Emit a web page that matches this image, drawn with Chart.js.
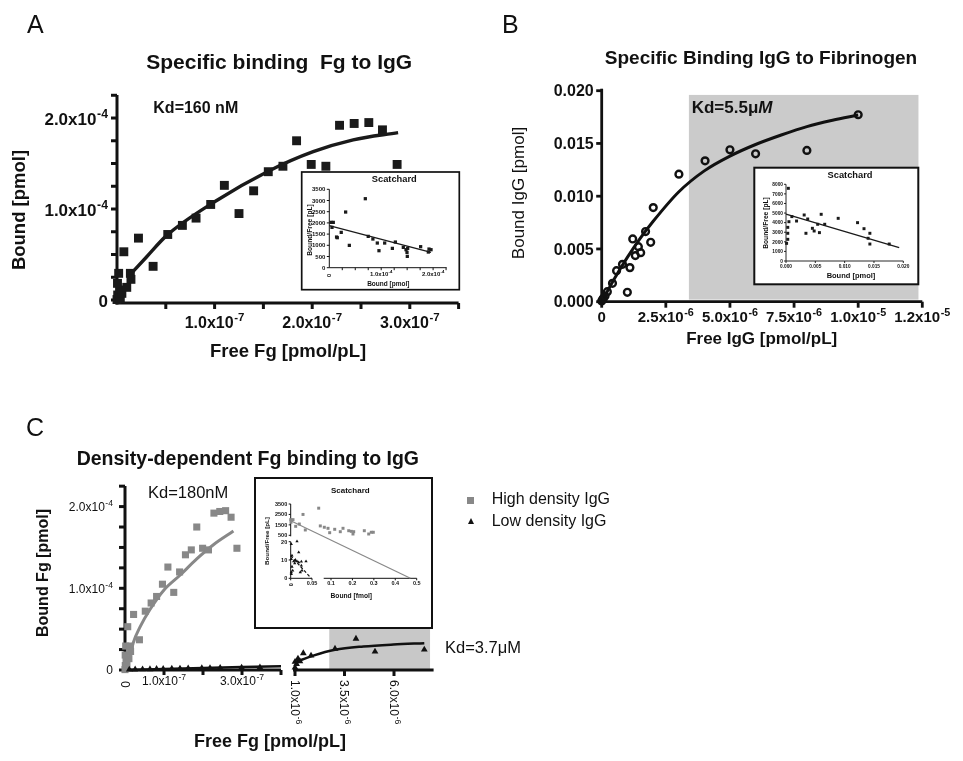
<!DOCTYPE html>
<html>
<head>
<meta charset="utf-8">
<script src="https://cdn.jsdelivr.net/npm/chart.js@4.4.1/dist/chart.umd.min.js"></script>
<style>
  body { margin: 0; background: #fff; }
  #wrap { position: relative; width: 963px; height: 761px; overflow: hidden; font-family: "Liberation Sans", Arial, sans-serif; color: #111; }
  canvas { position: absolute; left: 0; top: 0; }
  .t { position: absolute; white-space: pre; line-height: 1; }
  .sq { position: absolute; width: 7px; height: 7px; background: #888; }
  .tri { position: absolute; width: 0; height: 0; border-left: 3.5px solid transparent; border-right: 3.5px solid transparent; border-bottom: 6px solid #111; }
</style>
</head>
<body>
<div id="wrap">
  <canvas id="aMain" width="963" height="761"></canvas>
  <canvas id="aInset" width="963" height="761"></canvas>
  <canvas id="bMain" width="963" height="761"></canvas>
  <canvas id="bInset" width="963" height="761"></canvas>
  <canvas id="cLeft" width="963" height="761"></canvas>
  <canvas id="cRight" width="963" height="761"></canvas>
  <canvas id="cInset" width="963" height="761"></canvas>
</div>
<script>
// ---------- data ----------
// A (and C, high density): free Fg [pmol/pL] vs bound Fg [pmol]
const freeFg  = [0, 0.007e-7, 0.017e-7, 0.027e-7, 0.034e-7, 0.05e-7, 0.10e-7, 0.137e-7, 0.143e-7, 0.005e-7,
                 0.07e-7, 0.22e-7, 0.37e-7, 0.52e-7, 0.67e-7, 0.81e-7, 0.96e-7, 1.10e-7, 1.25e-7, 1.40e-7,
                 1.55e-7, 1.70e-7, 1.84e-7, 1.99e-7, 2.14e-7, 2.28e-7, 2.43e-7, 2.58e-7, 2.72e-7, 2.87e-7];
const boundFg = [0.005e-4, 0.055e-4, 0.293e-4, 0.11e-4, 0.018e-4, 0.073e-4, 0.139e-4, 0.293e-4, 0.227e-4, 0.183e-4,
                 0.53e-4, 0.68e-4, 0.37e-4, 0.72e-4, 0.82e-4, 0.90e-4, 1.05e-4, 1.26e-4, 0.95e-4, 1.20e-4,
                 1.41e-4, 1.47e-4, 1.75e-4, 1.49e-4, 1.47e-4, 1.92e-4, 1.94e-4, 1.95e-4, 1.87e-4, 1.49e-4];
const fitAx = [0.12e-7, 0.30e-7, 0.51e-7, 1.0e-7, 1.54e-7, 2.01e-7, 2.42e-7, 2.88e-7];
const fitAy = [0.26e-4, 0.47e-4, 0.71e-4, 1.08e-4, 1.41e-4, 1.63e-4, 1.76e-4, 1.84e-4];

// A inset Scatchard: bound [pmol] vs bound/free [pL]
const scAx = [0.033e-4, 0.077e-4, 0.052e-4, 0.14e-4, 0.154e-4, 0.23e-4, 0.315e-4, 0.386e-4, 0.694e-4, 0.75e-4,
              0.84e-4, 0.925e-4, 0.957e-4, 1.067e-4, 1.215e-4, 1.273e-4, 1.426e-4, 1.478e-4, 1.497e-4, 1.503e-4,
              1.51e-4, 1.76e-4, 1.908e-4, 1.921e-4, 1.96e-4];
const scAy = [2024, 2024, 1800, 1369, 1339, 1577, 2485, 997, 3080, 1399,
              1280, 1101, 759, 1101, 863, 1146, 908, 804, 685, 506,
              863, 938, 699, 833, 804];
const scAfitX = [0, 1.96e-4];
const scAfitY = [1875, 685];

// B: free IgG [pmol/pL] vs bound IgG [pmol]
const freeIgG  = [0, 0.04e-6, 0.06e-6, 0.13e-6, 0.22e-6, 0.42e-6, 0.58e-6, 0.81e-6, 1.0e-6, 1.10e-6, 1.21e-6, 1.31e-6,
                  1.43e-6, 1.52e-6, 1.71e-6, 1.91e-6, 2.01e-6, 3.01e-6, 4.03e-6, 5.0e-6, 6.0e-6, 8.0e-6, 10.0e-6];
const boundIgG = [0.00006, 0.00022, 0.0003, 0.00054, 0.00095, 0.00174, 0.00294, 0.00354, 0.00089, 0.00323, 0.00595, 0.00437,
                  0.00522, 0.00465, 0.00665, 0.00563, 0.00892, 0.01209, 0.01335, 0.0144, 0.01402, 0.01434, 0.01772];
const fitBx = [0, 0.5e-6, 1.0e-6, 1.5e-6, 2.0e-6, 3.0e-6, 4.0e-6, 5.0e-6, 6.0e-6, 7.0e-6, 8.0e-6, 9.0e-6, 10.0e-6];
const fitBy = [0, 0.0022, 0.0042, 0.0060, 0.0076, 0.0104, 0.0124, 0.0138, 0.0149, 0.0158, 0.0166, 0.0172, 0.0177];
const shadeBx = [3.4e-6, 12.35e-6];
const shadeBy = [0.0002, 0.0196];

// B inset Scatchard
const scBx = [0.0001, 0.0003, 0.0003, 0.0003, 0.0004, 0.0005, 0.0010, 0.0018, 0.0031, 0.0034, 0.0037, 0.0045,
              0.0048, 0.0054, 0.0057, 0.0060, 0.0066, 0.0089, 0.0122, 0.0133, 0.0140, 0.0143, 0.0143, 0.0176];
const scBy = [1840, 2260, 2890, 3510, 7580, 4100, 4630, 4170, 4800, 2890, 4380, 3410,
              3130, 3830, 2960, 4870, 3830, 4450, 4000, 3370, 2370, 2890, 1770, 1770];
const scBfitX = [0, 0.0193];
const scBfitY = [4900, 1390];

// C: high density fit, low density IgG
const fitCx = [0.13e-7, 0.21e-7, 0.39e-7, 0.64e-7, 1.0e-7, 1.41e-7, 1.84e-7, 2.26e-7, 2.78e-7];
const fitCy = [0.16e-4, 0.33e-4, 0.53e-4, 0.74e-4, 0.98e-4, 1.16e-4, 1.36e-4, 1.53e-4, 1.70e-4];
const lowLx = [0.11e-7, 0.26e-7, 0.45e-7, 0.64e-7, 0.81e-7, 0.98e-7, 1.2e-7, 1.41e-7, 1.62e-7, 1.97e-7, 2.18e-7, 2.44e-7, 2.99e-7, 3.46e-7];
const lowLy = [0.004e-4, 0.006e-4, 0.008e-4, 0.01e-4, 0.012e-4, 0.013e-4, 0.015e-4, 0.017e-4, 0.02e-4, 0.022e-4, 0.024e-4, 0.026e-4, 0.03e-4, 0.033e-4];
const lowFitLx = [0, 1e-7, 2e-7, 3e-7, 4e-7];
const lowFitLy = [0, 0.013e-4, 0.025e-4, 0.036e-4, 0.046e-4];
const lowRx = [1.0e-6, 1.0e-6, 1.08e-6, 1.15e-6, 1.25e-6, 1.42e-6, 1.81e-6, 3.02e-6, 4.08e-6, 5.04e-6, 7.53e-6];
const lowRy = [0.03e-4, 0.10e-4, 0.074e-4, 0.14e-4, 0.106e-4, 0.205e-4, 0.177e-4, 0.26e-4, 0.383e-4, 0.226e-4, 0.25e-4];
const lowFitRx = [1.0e-6, 1.92e-6, 3.02e-6, 4.45e-6, 5.97e-6, 7.53e-6];
const lowFitRy = [0.094e-4, 0.176e-4, 0.247e-4, 0.288e-4, 0.312e-4, 0.328e-4];
const shadeCx = [2.73e-6, 7.82e-6];
const shadeCy = [0, 0.506e-4];

// C inset Scatchard: bound [fmol] vs bound/free [pL]
const scHx = [0, 0.0054, 0.0007, 0.0117, 0.0202, 0.0289, 0.0343, 0.0657, 0.0695, 0.0789, 0.0876, 0.0915,
              0.1033, 0.1164, 0.1228, 0.1362, 0.1423, 0.1462, 0.1479, 0.1728, 0.1831, 0.1892, 0.1939];
const scHy = [2000, 2000, 1750, 1360, 1580, 2500, 1010, 3100, 1400, 1270, 1170, 750,
              1075, 845, 1170, 940, 880, 625, 845, 940, 625, 790, 790];
const scHfitX = [0, 0.281];
const scHfitY = [1900, -3620];
const scLx = [0.0014, 0.0148, 0.0188, 0.003, 0.0014, 0.007, 0.011, 0.0148, 0.0188, 0.025, 0.036, 0.025,
              0.0265, 0.0225, 0.003, 0.0014, 0.0014, 0.0047, 0.0094];
const scLy = [18.7, 20.2, 14.2, 12.4, 10.5, 9.3, 10.0, 9.3, 8.7, 9.1, 9.3, 6.9,
              4.2, 3.3, 6.3, 3.3, 2.3, 4.2, 8.2];
const scLfitX = [0, 0.048];
const scLfitY = [12.4, 0];

// tick values / labels
const tA_y = [0, 0.25e-4, 0.5e-4, 0.75e-4, 1e-4, 1.25e-4, 1.5e-4, 1.75e-4, 2e-4, 2.25e-4];
const tA_x = [0.5e-7, 1e-7, 1.5e-7, 2e-7, 2.5e-7, 3e-7, 3.5e-7];
const tB_y = [0, 0.005, 0.010, 0.015, 0.020];
const tB_x = [0, 2.5e-6, 5e-6, 7.5e-6, 10e-6, 12.5e-6];
const tB_xLab = ['0', '2.5x10^-6', '5.0x10^-6', '7.5x10^-6', '1.0x10^-5', '1.2x10^-5'];

// ---------- drawing helpers ----------
const W = 963, H = 761, INK = '#111';
const FONT = '"Liberation Sans", Arial, sans-serif';

function pts(xs, ys) { return xs.map((x, i) => ({ x, y: ys[i] })); }

function marks(xs, ys, style, r, color, extra) {
  return Object.assign({
    data: pts(xs, ys), showLine: false, clip: false,
    pointStyle: style, pointRadius: r, pointBorderWidth: 0,
    pointBackgroundColor: color, pointBorderColor: color
  }, extra || {});
}
function line(xs, ys, color, lw, extra) {
  return Object.assign({
    data: pts(xs, ys), showLine: true, clip: false, pointRadius: 0,
    borderColor: color, borderWidth: lw, cubicInterpolationMode: 'monotone', fill: false
  }, extra || {});
}

// text with an optional superscript after '^'
function sciText(ctx, text, x, cy, align, size, bold, rot) {
  const parts = text.split('^');
  const w8 = bold ? 'bold ' : '';
  const f1 = w8 + size + 'px ' + FONT, f2 = w8 + (size * 0.72) + 'px ' + FONT;
  ctx.font = f1; const w1 = ctx.measureText(parts[0]).width;
  let w2 = 0;
  if (parts[1]) { ctx.font = f2; w2 = ctx.measureText(parts[1]).width + size * 0.04; }
  const w = w1 + w2;
  ctx.save();
  ctx.translate(x, cy);
  if (rot) ctx.rotate(Math.PI / 2);
  const x0 = align === 'right' ? -w : align === 'center' ? -w / 2 : 0;
  const bl = size * 0.358;
  ctx.textAlign = 'left'; ctx.textBaseline = 'alphabetic'; ctx.fillStyle = INK;
  ctx.font = f1; ctx.fillText(parts[0], x0, bl);
  if (parts[1]) { ctx.font = f2; ctx.fillText(parts[1], x0 + w1 + size * 0.04, bl - size * 0.42); }
  ctx.restore();
}

function drawAxis(chart, a) {
  const ctx = chart.ctx, ca = chart.chartArea, s = chart.scales[a.scale];
  const horiz = s.isHorizontal();
  const base = horiz ? ca.bottom + (a.offset || 0) : ca.left - (a.offset || 0);
  const p = v => s.getPixelForValue(v);
  const e0 = a.ext0 || 0, e1 = a.ext1 || 0;
  ctx.save();
  ctx.strokeStyle = INK; ctx.lineWidth = a.lw;
  ctx.beginPath();
  if (horiz) { ctx.moveTo(p(a.span[0]) - e0, base); ctx.lineTo(p(a.span[1]) + e1, base); }
  else { ctx.moveTo(base, p(a.span[0]) + e0); ctx.lineTo(base, p(a.span[1]) - e1); }
  ctx.stroke();
  ctx.lineWidth = a.tw || a.lw;
  (a.ticks || []).forEach(v => {
    const q = p(v);
    ctx.beginPath();
    if (horiz) { ctx.moveTo(q, base); ctx.lineTo(q, base + a.tlen); }
    else { ctx.moveTo(base, q); ctx.lineTo(base - a.tlen, q); }
    ctx.stroke();
  });
  (a.labels || []).forEach(([v, text, rot]) => {
    const q = p(v);
    if (horiz) {
      if (rot || a.rot) sciText(ctx, text, q, base + a.gap, 'left', a.size, a.bold, true);
      else sciText(ctx, text, q, base + a.gap, 'center', a.size, a.bold, false);
    } else {
      sciText(ctx, text, base - a.gap, q + (a.dy || 0), 'right', a.size, a.bold, false);
    }
  });
  ctx.restore();
}

function drawDeco(chart, d) {
  const ctx = chart.ctx;
  ctx.save();
  if (d.box) {
    const [l, t, r, b, lw] = d.box;
    ctx.fillStyle = '#fff'; ctx.fillRect(l, t, r - l, b - t);
    ctx.strokeStyle = INK; ctx.lineWidth = lw; ctx.strokeRect(l, t, r - l, b - t);
  }
  (d.shades || []).forEach(s => {
    const sx = chart.scales[s.x || 'x'], sy = chart.scales[s.y || 'y'];
    const x0 = sx.getPixelForValue(s.xr[0]), x1 = sx.getPixelForValue(s.xr[1]);
    const y0 = sy.getPixelForValue(s.yr[0]), y1 = sy.getPixelForValue(s.yr[1]);
    ctx.fillStyle = s.color; ctx.fillRect(x0, y1, x1 - x0, y0 - y1);
  });
  ctx.restore();
  (d.axes || []).forEach(a => drawAxis(chart, a));
}

function lin(min, max, axis) { return { type: 'linear', axis: axis, display: false, min: min, max: max }; }

function makeChart(id, area, scales, datasets, deco) {
  return new Chart(document.getElementById(id), {
    type: 'scatter',
    data: { datasets: datasets },
    options: {
      responsive: false, animation: false, events: [],
      layout: { padding: { left: area[0], top: area[1], right: W - area[2], bottom: H - area[3] } },
      scales: scales,
      plugins: { legend: { display: false }, tooltip: { enabled: false } }
    },
    plugins: [{ id: 'deco_' + id, beforeDatasetsDraw(chart) { drawDeco(chart, deco); } }]
  });
}

const lab = (vals, texts) => vals.map((v, i) => [v, texts[i]]);

// ---------- panel A ----------
makeChart('aMain', [117, 95, 458.6, 300],
  { x: lin(0, 3.5e-7, 'x'), y: lin(0, 2.253e-4, 'y') },
  [ marks(freeFg, boundFg, 'rect', 6.3, '#1a1a1a'),
    line(fitAx, fitAy, '#1a1a1a', 3.4) ],
  { axes: [
    { scale: 'y', lw: 3, span: [0, 2.253e-4], ext0: 4.5, ticks: tA_y, tlen: 6,
      labels: lab([0, 1e-4, 2e-4], ['0', '1.0x10^-4', '2.0x10^-4']), size: 17, bold: true, gap: 9, dy: 1 },
    { scale: 'x', offset: 3, lw: 3, span: [0, 3.5e-7], ext0: 1.5, ticks: tA_x, tlen: 6,
      labels: lab([1e-7, 2e-7, 3e-7], ['1.0x10^-7', '2.0x10^-7', '3.0x10^-7']), size: 16, bold: true, gap: 19 }
  ] });

makeChart('aInset', [329.3, 189.3, 446.7, 267.7],
  { x: lin(0, 2.262e-4, 'x'), y: lin(0, 3500, 'y') },
  [ marks(scAx, scAy, 'rect', 2.3, '#1a1a1a'),
    line(scAfitX, scAfitY, '#1a1a1a', 1.3) ],
  { box: [301.7, 172, 459.3, 289.7, 1.7],
    axes: [
    { scale: 'y', lw: 1, span: [0, 3500], ticks: [0, 500, 1000, 1500, 2000, 2500, 3000, 3500], tlen: 2.5,
      labels: lab([0, 500, 1000, 1500, 2000, 2500, 3000, 3500], ['0', '500', '1000', '1500', '2000', '2500', '3000', '3500']),
      size: 6, bold: true, gap: 4 },
    { scale: 'x', lw: 1, span: [0, 2.262e-4], ticks: [0.25e-4, 0.5e-4, 0.75e-4, 1e-4, 1.25e-4, 1.5e-4, 1.75e-4, 2e-4, 2.25e-4], tlen: 2.5,
      labels: [[0, '0', true], [1e-4, '1.0x10^-4'], [2e-4, '2.0x10^-4']], size: 6, bold: true, gap: 6 }
  ] });

// ---------- panel B ----------
makeChart('bMain', [601.7, 90.7, 922.3, 301.7],
  { x: lin(0, 1.25e-5, 'x'), y: lin(0, 0.020, 'y') },
  [ marks(freeIgG, boundIgG, 'circle', 3.4, 'rgba(0,0,0,0)', { pointBorderColor: '#111', pointBorderWidth: 2.4 }),
    line(fitBx, fitBy, '#111', 3) ],
  { shades: [{ xr: shadeBx, yr: shadeBy, color: '#cbcbcb' }],
    axes: [
    { scale: 'y', lw: 2.8, span: [0, 0.020], ext0: 1.4, ext1: 2, ticks: tB_y, tlen: 5.5,
      labels: lab(tB_y, ['0.000', '0.005', '0.010', '0.015', '0.020']), size: 16, bold: true, gap: 8 },
    { scale: 'x', lw: 2.8, span: [0, 1.25e-5], ext0: 1.4, ticks: tB_x, tlen: 6,
      labels: lab(tB_x, tB_xLab), size: 15, bold: true, gap: 15 }
  ] });

makeChart('bInset', [786, 184.3, 903.3, 261],
  { x: lin(0, 0.020, 'x'), y: lin(0, 8000, 'y') },
  [ marks(scBx, scBy, 'rect', 2.1, '#1a1a1a'),
    line(scBfitX, scBfitY, '#1a1a1a', 1.3) ],
  { box: [754.3, 167.7, 918.3, 284.3, 2],
    axes: [
    { scale: 'y', lw: 0.9, span: [0, 8000], ticks: [0, 1000, 2000, 3000, 4000, 5000, 6000, 7000, 8000], tlen: 2,
      labels: lab([0, 1000, 2000, 3000, 4000, 5000, 6000, 7000, 8000], ['0', '1000', '2000', '3000', '4000', '5000', '6000', '7000', '8000']),
      size: 4.8, bold: true, gap: 3 },
    { scale: 'x', lw: 0.9, span: [0, 0.020], ticks: [0, 0.005, 0.010, 0.015, 0.020], tlen: 2,
      labels: lab([0, 0.005, 0.010, 0.015, 0.020], ['0.000', '0.005', '0.010', '0.015', '0.020']), size: 4.8, bold: true, gap: 5 }
  ] });

// ---------- panel C ----------
const GRAY = '#888';
makeChart('cLeft', [125, 486, 281, 670],
  { x: lin(0, 4e-7, 'x'), y: lin(0, 2.252e-4, 'y') },
  [ marks(lowLx, lowLy, 'triangle', 3.9, '#111'),
    marks(freeFg, boundFg, 'rect', 5, GRAY),
    line(fitCx, fitCy, GRAY, 3),
    line(lowFitLx, lowFitLy, '#111', 2.5) ],
  { axes: [
    { scale: 'y', lw: 3, span: [0, 2.252e-4], ext0: 1.5, ticks: tA_y, tlen: 6,
      labels: lab([0, 1e-4, 2e-4], ['0', '1.0x10^-4', '2.0x10^-4']), size: 12, bold: false, gap: 12 },
    { scale: 'x', lw: 3, span: [0, 4e-7], ext0: 1.5, ticks: [1e-7, 2e-7, 3e-7, 4e-7], tlen: 5,
      labels: [[0, '0', true], [1e-7, '1.0x10^-7'], [3e-7, '3.0x10^-7']], size: 12, bold: false, gap: 11 }
  ] });

makeChart('cRight', [295, 486, 433.6, 670],
  { x: lin(1e-6, 8e-6, 'x'), y: lin(0, 2.252e-4, 'y') },
  [ marks(lowRx, lowRy, 'triangle', 3.9, '#111'),
    line(lowFitRx, lowFitRy, '#111', 2.5) ],
  { shades: [{ xr: shadeCx, yr: shadeCy, color: '#c8c8c8' }],
    axes: [
    { scale: 'x', lw: 3, span: [0.9e-6, 8e-6], ticks: [1e-6, 3.5e-6, 6e-6], tlen: 6,
      labels: lab([1e-6, 3.5e-6, 6e-6], ['1.0x10^-6', '3.5x10^-6', '6.0x10^-6']), rot: true, size: 12, bold: false, gap: 10 }
  ] });

makeChart('cInset', [290.7, 504, 418.5, 578.3],
  { x: lin(0, 0.3, 'x'), x2: lin(-0.0881, 0.5084, 'x'), y: lin(-3621.5, 3500, 'y'), y2: lin(0, 40.6, 'y') },
  [ marks(scLx, scLy, 'triangle', 1.9, '#111', { yAxisID: 'y2' }),
    marks(scHx, scHy, 'rect', 2.1, GRAY),
    line(scHfitX, scHfitY, GRAY, 1.2, { cubicInterpolationMode: 'default', tension: 0 }),
    line(scLfitX, scLfitY, '#111', 1.2, { yAxisID: 'y2', borderDash: [3, 2], tension: 0 }) ],
  { box: [255, 478, 432, 628, 2],
    axes: [
    { scale: 'y', lw: 1, span: [400, 3500], ticks: [500, 1500, 2500, 3500], tlen: 2,
      labels: lab([500, 1500, 2500, 3500], ['500', '1500', '2500', '3500']), size: 5.5, bold: true, gap: 3.5 },
    { scale: 'y2', lw: 1, span: [0, 20], ticks: [0, 10, 20], tlen: 2,
      labels: lab([0, 10, 20], ['0', '10', '20']), size: 5.5, bold: true, gap: 3.5 },
    { scale: 'x', lw: 1, span: [0, 0.05], ticks: [0, 0.05], tlen: 2,
      labels: [[0, '0', true], [0.05, '0.05']], size: 5.5, bold: true, gap: 5 },
    { scale: 'x2', lw: 1, span: [0.066, 0.5], ticks: [0.1, 0.2, 0.3, 0.4, 0.5], tlen: 2,
      labels: lab([0.1, 0.2, 0.3, 0.4, 0.5], ['0.1', '0.2', '0.3', '0.4', '0.5']), size: 5.5, bold: true, gap: 5 }
  ] });

// ---------- HTML text ----------
const wrap = document.getElementById('wrap');
function txt(html, x, cy, size, o) {
  o = o || {};
  const d = document.createElement('div');
  d.className = 't';
  d.innerHTML = html;
  d.style.fontSize = size + 'px';
  d.style.fontWeight = o.bold ? 'bold' : 'normal';
  d.style.left = x + 'px';
  if (o.rot) {
    d.style.top = cy + 'px';
    d.style.transform = 'translate(-50%,-50%) rotate(-90deg)';
  } else {
    d.style.top = (cy - size * 0.49) + 'px';
    if (o.center) d.style.transform = 'translateX(-50%)';
  }
  wrap.appendChild(d);
}

txt('A', 27, 24, 25);
txt('B', 502, 24, 25);
txt('C', 26, 427, 25);

txt('Specific binding  Fg to IgG', 279.2, 60.8, 21, { bold: 1, center: 1 });
txt('Kd=160 nM', 153.3, 107.5, 16, { bold: 1 });
txt('Bound [pmol]', 18.5, 210, 18.5, { bold: 1, rot: 1 });
txt('Free Fg [pmol/pL]', 288, 351.2, 18.5, { bold: 1, center: 1 });
txt('Scatchard', 394.3, 179.7, 9.3, { bold: 1, center: 1 });
txt('Bound [pmol]', 388.3, 284, 6.5, { bold: 1, center: 1 });
txt('Bound/Free [pL]', 310, 229.7, 6.7, { bold: 1, rot: 1 });

txt('Specific Binding IgG to Fibrinogen', 761, 57.2, 19, { bold: 1, center: 1 });
txt('Kd=5.5\u03bc<i>M</i>', 691.7, 107.5, 17, { bold: 1 });
txt('Bound IgG [pmol]', 518, 193.3, 17, { rot: 1 });
txt('Free IgG [pmol/pL]', 761.7, 338.8, 17, { bold: 1, center: 1 });
txt('Scatchard', 850, 176, 9.3, { bold: 1, center: 1 });
txt('Bound [pmol]', 851, 276, 7.5, { bold: 1, center: 1 });
txt('Bound/Free [pL]', 766, 222.6, 6.7, { bold: 1, rot: 1 });

txt('Density-dependent Fg binding to IgG', 76.7, 459, 19.5, { bold: 1 });
txt('Kd=180nM', 148, 491.7, 16.5);
txt('Kd=3.7\u03bcM', 445, 647.5, 16.5);
txt('Bound Fg [pmol]', 43, 573, 16, { bold: 1, rot: 1 });
txt('Free Fg [pmol/pL]', 270, 740.8, 18, { bold: 1, center: 1 });
txt('Scatchard', 350.3, 491.3, 8, { bold: 1, center: 1 });
txt('Bound [fmol]', 351.3, 596.7, 6.7, { bold: 1, center: 1 });
txt('Bound/Free [pL]', 267, 540.7, 6.2, { bold: 1, rot: 1 });
txt('High density IgG', 491.7, 499.3, 16);
txt('Low density IgG', 491.7, 520.7, 16);

const sq = document.createElement('div'); sq.className = 'sq'; sq.style.left = '467px'; sq.style.top = '496.5px'; wrap.appendChild(sq);
const tri = document.createElement('div'); tri.className = 'tri'; tri.style.left = '467.5px'; tri.style.top = '518px'; wrap.appendChild(tri);
</script>
</body>
</html>
